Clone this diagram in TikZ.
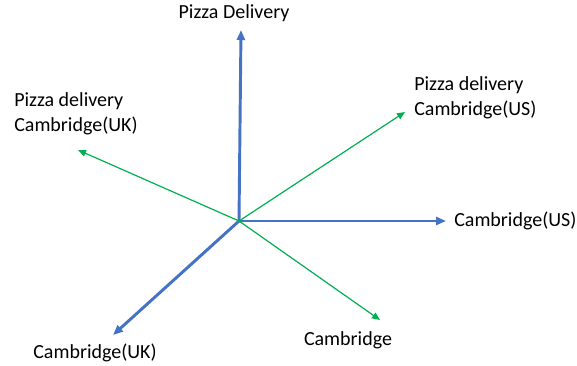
\documentclass[tikz,border=0pt]{standalone}
\usepackage{fontspec}
\setmainfont{Carlito}
\usetikzlibrary{arrows.meta}
\definecolor{axisblue}{RGB}{68,114,196}
\definecolor{meaninggreen}{RGB}{0,176,80}
\tikzstyle{axis}=[-{Triangle[length=7.5pt,width=6pt]}, line width=2.2pt, color=axisblue]
\tikzstyle{meaning}=[-{Triangle[length=6pt,width=5pt]}, line width=0.9pt, color=meaninggreen]
\tikzset{word/.style={font=\fontsize{15}{19}\selectfont, text=black, inner sep=0pt, align=left}}

\begin{document}
\begin{tikzpicture}[x=0.75pt,y=-0.75pt]
  \useasboundingbox (0,0) rectangle (577,366);

  \coordinate (O) at (239,221);
  \coordinate (Up) at (241,30);
  \coordinate (Right) at (446,221);
  \coordinate (DownLeft) at (113,335);
  \coordinate (UpLeft) at (78,150);
  \coordinate (UpRight) at (405,112);
  \coordinate (DownRight) at (380,320);

  %% Words
  \draw (234,13) node[word] (PD) {Pizza Delivery};
  \draw (14,114) node[word,anchor=west] (PDUK) {Pizza delivery\\Cambridge(UK)};
  \draw (414,98) node[word,anchor=west] (PDUS) {Pizza delivery\\Cambridge(US)};
  \draw (454,221) node[word,anchor=west] (CUS) {Cambridge(US)};
  \draw (348,340) node[word] (C) {Cambridge};
  \draw (95,353) node[word] (CUK) {Cambridge(UK)};

  %% Blue axes
  \draw[axis] (O) -- (Up);
  \draw[axis] (O) -- (Right);
  \draw[axis] (O) -- (DownLeft);

  %% Green arrows
  \draw[meaning] (O) -- (UpLeft);
  \draw[meaning] (O) -- (UpRight);
  \draw[meaning] (O) -- (DownRight);
\end{tikzpicture}
\end{document}
